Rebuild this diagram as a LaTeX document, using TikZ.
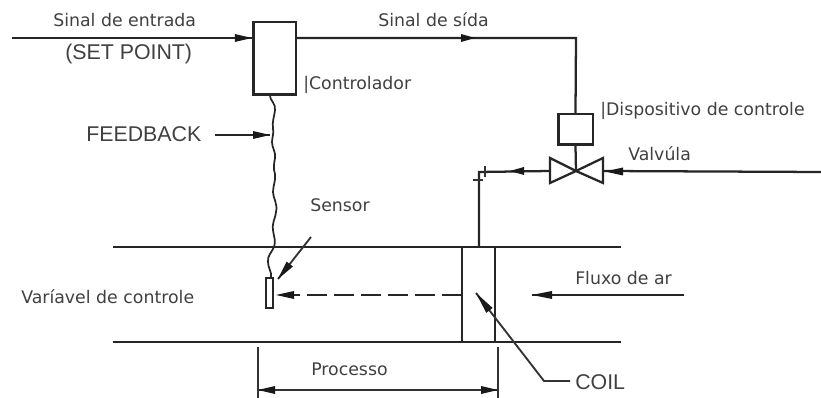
\documentclass[tikz,border=0pt]{standalone}
\usepackage{fontspec}
\setmainfont{DejaVu Sans}
\newfontfamily\arialfont{Liberation Sans}
\tikzset{
  x=0.75pt,y=-0.75pt,
  ln/.style={line width=1.7pt,draw=black!85},
  thin ln/.style={line width=1.4pt,draw=black!80},
  lab/.style={text=black!75,font=\fontsize{13pt}{15pt}\selectfont,inner sep=0pt,anchor=west},
  alab/.style={text=black!75,font=\arialfont\fontsize{16pt}{18pt}\selectfont,inner sep=0pt,anchor=west},
  boxn/.style={draw=black!85,line width=2pt,fill=white,inner sep=0pt},
}
\newcommand{\headat}[3]{\begin{scope}[shift={(#1)},rotate=#2]\fill[black!90] (0,0) -- (-#3,-4) -- (-#3,4) -- cycle;\end{scope}}
\begin{document}
\begin{tikzpicture}
\useasboundingbox (0,0) rectangle (821,398);
% coordinates
\coordinate (inS) at (12,38);
\coordinate (outC) at (576,38);
\coordinate (flowIn) at (821,172);
\coordinate (pipeC) at (479,172);
\coordinate (fbS) at (215,135);
\coordinate (fbE) at (270,135);
\coordinate (dTL) at (113,247);
\coordinate (dTR) at (621,247);
\coordinate (dBL) at (113,342);
\coordinate (dBR) at (621,342);
\coordinate (pipeE) at (479,247);
\coordinate (c1T) at (462,247);
\coordinate (c1B) at (462,342);
\coordinate (c2T) at (495,247);
\coordinate (c2B) at (495,342);
\coordinate (sensS) at (311,237);
\coordinate (sensE) at (278,279);
\coordinate (airS) at (684,295);
\coordinate (airE) at (532,295);
\coordinate (coilC) at (544,381);
\coordinate (coilE) at (476,293);
\coordinate (coilS) at (570,381);
\coordinate (dimL) at (258,390);
\coordinate (dimR) at (498,390);
\coordinate (dimLT) at (258,347);
\coordinate (dimLB) at (258,398);
\coordinate (dimRT) at (498,347);
\coordinate (dimRB) at (498,398);
% boxes
\node[boxn,minimum width=32pt,minimum height=54.5pt] (ctrl) at (274.5,58.5) {};
\node[boxn,minimum width=26pt,minimum height=23pt] (act) at (575.5,129.5) {};
\node[boxn,minimum width=5pt,minimum height=22pt,line width=1.3pt] (sens) at (269.5,293) {};
% valve
\coordinate (vC) at (576,171);
\draw[ln,line join=miter] (vC) -- (550,158) -- (550,183) -- cycle;
\draw[ln,line join=miter] (vC) -- (603,158) -- (603,183) -- cycle;
\coordinate (vL) at (550,171);
\coordinate (vR) at (603,171);
% lines
\draw[ln] (inS) -- (ctrl.west |- inS);
\headat{ctrl.west |- inS}{0}{17}
\draw[ln] (ctrl.east |- inS) -- (outC) -- (act.north);
\headat{475,38}{0}{14}
\draw[ln] (act.south) -- (vC);
\draw[ln] (vL) -- (pipeC) -- (pipeE);
\headat{510,171}{180}{14}
\draw[thin ln] (485,166) -- (485,177);
\draw[thin ln] (473,180) -- (483,180);
\draw[ln] (flowIn) -- (vR);
\headat{605,171.5}{180}{18}
% feedback wave
\draw[line width=1.3pt,draw=black!85] (ctrl.south -| 270,95)
  .. controls (270,100) and (276,104) .. (275,110)
  .. controls (274,118) and (272,122) .. (273,128)
  .. controls (274,134) and (272,138) .. (272,142)
  .. controls (272,148) and (276,152) .. (275,158)
  .. controls (274,164) and (273,168) .. (275,174)
  .. controls (276,180) and (273,186) .. (273,192)
  .. controls (273,198) and (278,204) .. (276,212)
  .. controls (275,220) and (272,222) .. (273,230)
  .. controls (274,238) and (276,240) .. (274,247)
  .. controls (272,252) and (267,256) .. (268,262)
  .. controls (268,268) and (272,272) .. (271,277);
\draw[ln] (fbS) -- (fbE);
\headat{270,135}{0}{17}
% duct
\draw[ln] (dTL) -- (dTR);
\draw[ln] (dBL) -- (dBR);
\draw[ln] (c1T) -- (c1B);
\draw[ln] (c2T) -- (c2B);
% sensor arrow
\draw[thin ln] (sensS) -- (sensE);
\headat{sensE}{-128.2}{19}
% dashed
\draw[ln,line width=1.9pt,dash pattern=on 15pt off 5.25pt] (c1T |- airE) -- (sens.east |- airE);
\headat{276,295}{180}{18}
% air
\draw[ln] (airS) -- (airE);
\headat{airE}{180}{20}
% coil
\draw[thin ln] (coilS) -- (coilC) -- (coilE);
\headat{coilE}{127.7}{22}
% dimension
\draw[thin ln] (dimLT) -- (dimLB);
\draw[thin ln] (dimRT) -- (dimRB);
\draw[thin ln] (dimL) -- (dimR);
\headat{dimL}{180}{17}
\headat{dimR}{0}{17}
% labels
\node[lab] (t1) at (53,20) {Sinal de entrada};
\node[alab] (t2) at (65,54) {(SET POINT)};
\node[lab] (t3) at (378,20) {Sinal de sída};
\node[lab] (t4) at (303,85) {|Controlador};
\node[alab] (t5) at (86,134.5) {FEEDBACK};
\node[lab] (t6) at (310,205) {Sensor};
\node[lab] (t7) at (600,111) {|Dispositivo de controle};
\node[lab] (t8) at (628,154) {Valvúla};
\node[lab] (t9) at (21,297) {Varíavel de controle};
\node[lab] (t10) at (575,278) {Fluxo de ar};
\node[lab] (t11) at (311,369) {Processo};
\node[alab] (t12) at (575,382) {COIL};
\end{tikzpicture}
\end{document}
